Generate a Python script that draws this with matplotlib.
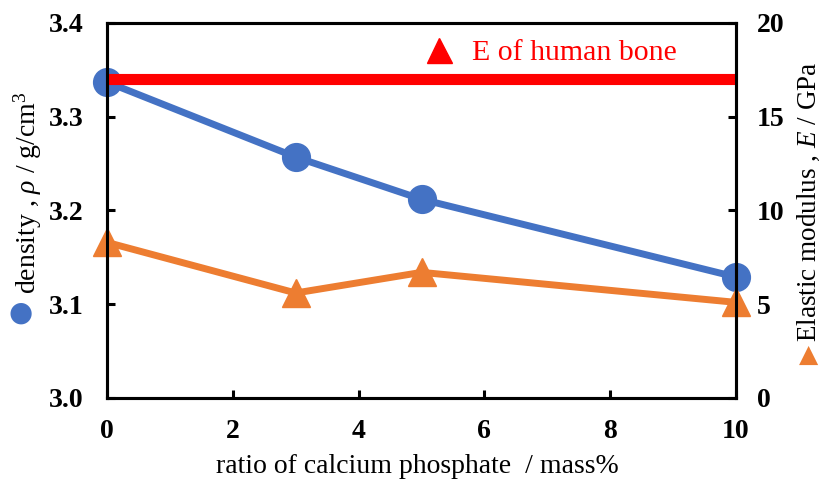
import matplotlib
matplotlib.use("Agg")
import matplotlib.pyplot as plt
from matplotlib.lines import Line2D

# データ
ratio = [0, 3, 5, 10]                      # mass%
density = [3.337, 3.257, 3.212, 3.129]     # g/cm3
modulus = [8.3, 5.6, 6.7, 5.1]             # GPa
bone_x = [0, 10]
bone_E = [17, 17]                          # 人骨の弾性率
x_ticks = [0, 2, 4, 6, 8, 10]
left_ticks = [3.0, 3.1, 3.2, 3.3, 3.4]
right_ticks = [0, 5, 10, 15, 20]

plt.rcParams['font.family'] = ['Liberation Serif', 'DejaVu Sans']
plt.rcParams['mathtext.fontset'] = 'custom'
plt.rcParams['mathtext.rm'] = 'Liberation Serif'
plt.rcParams['mathtext.it'] = 'Liberation Serif:italic'

blue = '#4472C4'
orange = '#ED7D31'
red = '#FF0000'

fig = plt.figure(figsize=(8.21, 4.82), dpi=100)
ax = fig.add_axes([0.1303, 0.1743, 0.7662, 0.778])
ax2 = ax.twinx()

ax.plot(ratio, density, color=blue, lw=5, marker='o', ms=20, clip_on=False)
ax2.plot(ratio, modulus, color=orange, lw=5, marker='^', ms=20, clip_on=False)
ax2.plot(bone_x, bone_E, color=red, lw=8, solid_capstyle='butt')

ax.set_xlim(0, 10)
ax.set_ylim(3.0, 3.4)
ax2.set_ylim(0, 20)
ax.set_xticks(x_ticks)
ax.set_yticks(left_ticks)
ax.set_yticklabels([f"{v:.1f}" for v in left_ticks])
ax2.set_yticks(right_ticks)

for a in (ax, ax2):
    for s in a.spines.values():
        s.set_linewidth(2.2)
    a.tick_params(direction='in', length=6, width=2.2, labelsize=20)
ax.tick_params(axis='x', pad=15)
ax.tick_params(axis='y', pad=17)
ax2.tick_params(axis='y', pad=15)
for lab in ax.get_xticklabels() + ax.get_yticklabels() + ax2.get_yticklabels():
    lab.set_fontweight('bold')

fig.text(0.508, 0.033, 'ratio of calcium phosphate  / mass%', ha='center', va='center', fontsize=20)

# 左軸ラベル
fig.text(0.034, 0.600, r'density , $\it{\rho}$ / g/cm$^3$', rotation=90, ha='center', va='center', fontsize=20)
fig.text(0.025, 0.351, '●', color=blue, ha='center', va='center', fontsize=20,
         family=['DejaVu Sans'])

# 右軸ラベル
fig.text(0.985, 0.582, r'Elastic modulus , $\it{E}$ / GPa', rotation=90, ha='center', va='center', fontsize=19.5)
fig.text(0.985, 0.263, '▲', color=orange, ha='center', va='center', fontsize=18,
         family=['DejaVu Sans'])

handle = Line2D([], [], color=red, marker='^', ms=18, lw=0)
ax.legend([handle], ['E of human bone'], loc='center left', bbox_to_anchor=(0.461, 0.92),
          frameon=False, fontsize=21.5, handlelength=1.0, handletextpad=0.6, labelcolor=red)

fig.savefig('out.png', dpi=100)
